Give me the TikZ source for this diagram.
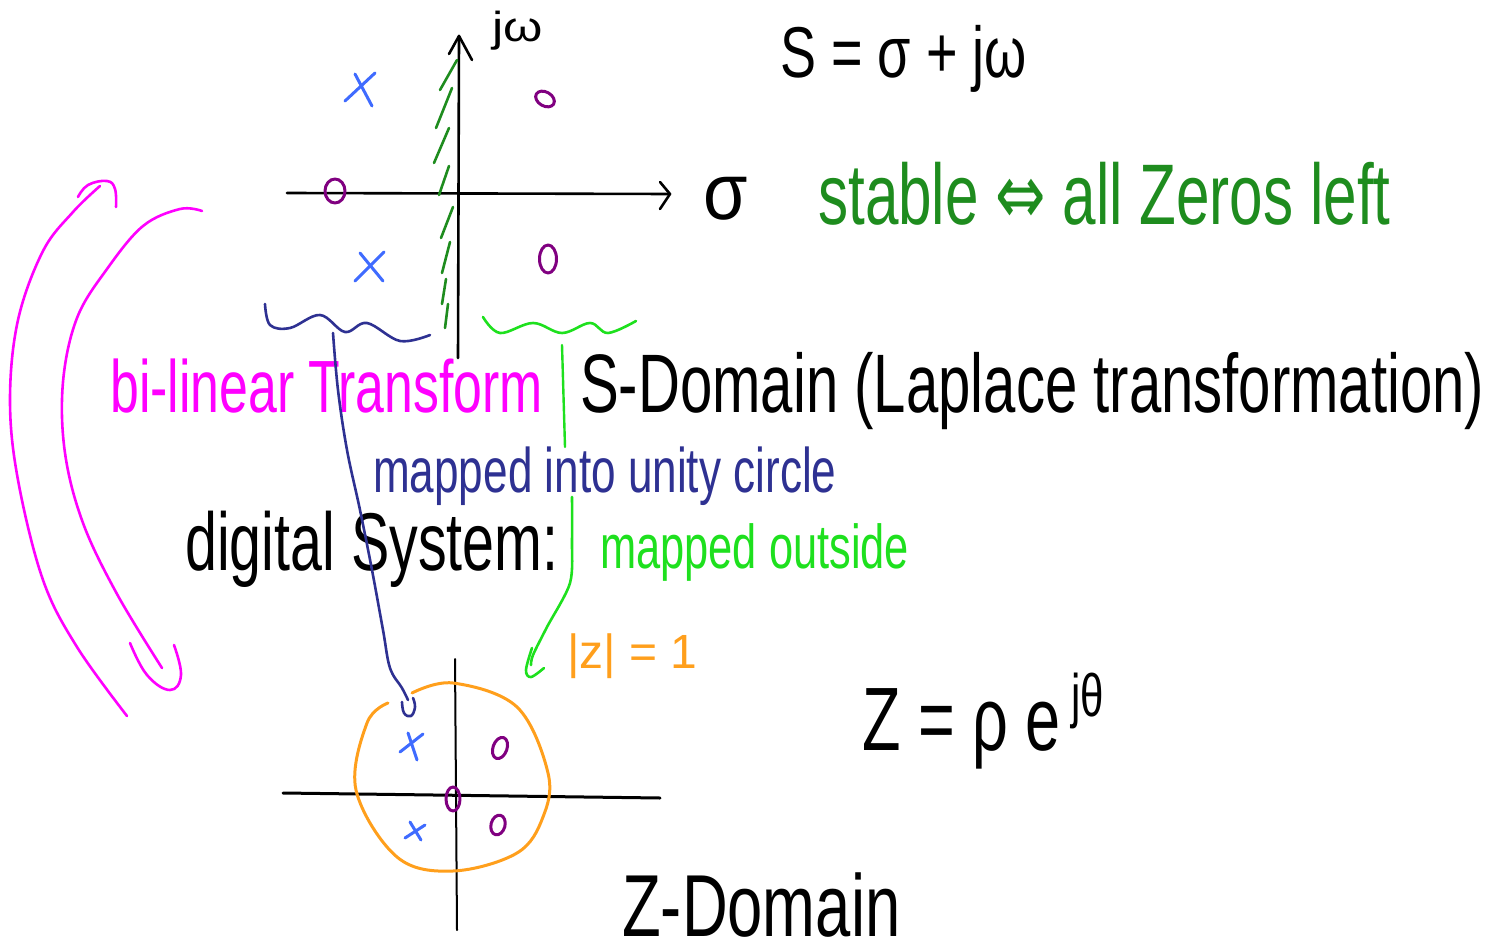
\documentclass[tikz,border=0pt]{standalone}
\usepackage{fontspec}
\setmainfont{Liberation Sans}
\newfontfamily\symfont{DejaVu Sans}
\usepackage{graphicx}
\usetikzlibrary{arrows.meta}
\definecolor{mag}{HTML}{FF00FF}
\definecolor{navy}{HTML}{2E3192}
\definecolor{xblue}{HTML}{3F6BFF}
\definecolor{zpurple}{HTML}{800080}
\definecolor{lgreen}{HTML}{1EE01E}
\definecolor{dgreen}{HTML}{1E8C1E}
\definecolor{zorange}{HTML}{FF9F1C}
\newcommand{\hw}[3]{\scalebox{#1}[1]{\fontsize{#2}{#2}\selectfont #3}}
\tikzset{
  txt/.style={inner sep=0pt, anchor=base west},
  pen/.style={line width=3pt, line cap=round, line join=round},
  axisline/.style={pen, line width=2.6pt, black},
  pole/.style={pen, xblue, line width=3pt},
  zero/.style={pen, zpurple, line width=3pt},
  hatch/.style={pen, dgreen, line width=2.6pt},
}
\begin{document}
\begin{tikzpicture}[x=1pt,y=-1pt]
\useasboundingbox (0,0) rectangle (1493,952);

% ---------- s-plane ----------
\coordinate (sH0) at (287,193); \coordinate (sH1) at (670,194);
\coordinate (sV0) at (458,358); \coordinate (sV1) at (459,36);
\draw[axisline] (sH0) -- (sH1);
\draw[axisline] (660,182) -- (sH1) -- (660,209);
\draw[axisline] (sV0) -- (sV1);
\draw[axisline] (449,54) -- (sV1) -- (472,60);

\node[txt] (jw) at (492,42) {\hw{1.2}{42}{jω}};
\node[txt] (sigma) at (703,219) {\hw{0.9}{80}{σ}};

% stability hatch
\foreach \xa/\ya/\xb/\yb in {440/90/457/60, 436/128/452/88, 434/163/449/128, 439/195/449/166, 441/238/453/207, 442/273/450/242, 442/304/446/279, 445/328/448/304}
  \draw[hatch] (\xa,\ya) -- (\xb,\yb);

% poles and zeros (s-plane)
\draw[pole] (345,101) -- (375,73);  \draw[pole] (355,74) -- (372,106);
\draw[pole] (355,281) -- (384,252); \draw[pole] (360,253) -- (383,281);
\draw[zero] (545,99) ellipse[x radius=10, y radius=7, rotate=-30];
\draw[zero] (335,191) ellipse[x radius=10, y radius=12];
\draw[zero] (548,259) ellipse[x radius=8.5, y radius=14];

% braces
\coordinate (navyTop) at (333,333);
\draw[pen, navy, line width=2.6pt] plot[smooth, tension=0.6] coordinates {(265,304) (270,325) (290,328) (320,315) (345,332) (367,323) (400,341) (430,335)};
\draw[pen, lgreen, line width=2.6pt] plot[smooth, tension=0.6] coordinates {(483,317) (500,333) (533,323) (562,333) (590,323) (608,333) (636,321)};

% ---------- texts ----------
\node[txt, text=mag] (bilin) at (110,412) {\hw{0.7}{74}{bi-linear Transform}};
\node[txt] (sdom) at (580,412) {\hw{0.7}{83}{S-Domain (Laplace transformation)}};
\node[txt, text=navy] (inside) at (373,492) {\hw{0.7}{63}{mapped into unity circle}};
\node[txt] (digsys) at (185,570) {\hw{0.7}{82}{digital System:}};
\node[txt, text=lgreen] (outside) at (600,568) {\hw{0.7}{62}{mapped outside}};
\node[txt, text=zorange] (unit) at (567,668) {\hw{1}{48}{|z| = 1}};
\node[txt] (zpolar) at (862,750) {\hw{0.7}{90}{Z = ρ e\,\raisebox{34pt}{\fontsize{60}{60}\selectfont jθ}}};
\node[txt] (zdom) at (622,936) {\hw{0.72}{88}{Z-Domain}};
\node[txt] (sdef) at (780,78) {\hw{0.75}{72}{S = σ + jω}};
\node[txt, text=dgreen] (stable) at (818,225) {\hw{0.7}{86}{stable {\symfont ⇔} all Zeros left}};

% ---------- connectors ----------
\coordinate (navyEnd) at (408,700);
\draw[pen, navy, line width=2.6pt] plot[smooth, tension=0.6] coordinates {(navyTop) (338,390) (347,450) (360,510) (372,570) (383,630) (390,668) (402,688) (navyEnd)};
\draw[pen, navy, line width=2.6pt] plot[smooth, tension=0.7] coordinates {(402,702) (404,713) (411,716) (415,707) (413,698)};

\coordinate (gA0) at (562,345); \coordinate (gA1) at (565,447);
\draw[pen, lgreen, line width=2.4pt] (gA0) -- (gA1);
\coordinate (gB0) at (572,497); \coordinate (gEnd) at (531,665);
\draw[pen, lgreen, line width=2.6pt] plot[smooth, tension=0.5] coordinates {(gB0) (572,540) (570,583) (547,627) (533,655) (gEnd)};
\draw[pen, lgreen, line width=2.6pt] plot[smooth, tension=0.6] coordinates {(532,648) (526,670) (531,677) (544,668)};

% bilinear mapping arcs
\coordinate (mOutBot) at (127,716); \coordinate (mOutTop) at (100,186);
\draw[pen, mag, line width=2.6pt] plot[smooth, tension=0.6] coordinates {(mOutBot) (77,647) (43,580) (18,480) (10,400) (18,320) (43,251) (73,212) (mOutTop)};
\draw[pen, mag, line width=2.6pt] plot[smooth, tension=0.7] coordinates {(78,197) (88,185) (107,181) (115,189) (116,207)};
\coordinate (mInTop) at (202,211); \coordinate (mInBot) at (162,668);
\draw[pen, mag, line width=2.6pt] plot[smooth, tension=0.6] coordinates {(mInTop) (180,209) (143,226) (107,269) (77,318) (63,382) (65,453) (83,523) (117,594) (mInBot)};
\draw[pen, mag, line width=2.6pt] plot[smooth, tension=0.7] coordinates {(130,643) (147,675) (170,690) (181,675) (174,645)};

% ---------- z-plane ----------
\coordinate (zH0) at (283,793); \coordinate (zH1) at (660,798);
\coordinate (zV0) at (455,659); \coordinate (zV1) at (457,930);
\draw[axisline, line width=3pt] (zH0) -- (zH1);
\draw[axisline, line width=2pt] (zV0) -- (zV1);
\draw[pen, zorange, line width=3pt] plot[smooth, tension=0.6] coordinates {(412,693) (453,683) (517,707) (548,773) (543,817) (517,853) (453,871) (397,857) (356,790) (367,723) (388,703)};
\draw[pole] (400,752) -- (423,734); \draw[pole] (408,733) -- (417,760);
\draw[pole] (405,838) -- (425,825); \draw[pole] (410,822) -- (421,840);
\draw[zero] (500,748) ellipse[x radius=7, y radius=11, rotate=-20];
\draw[zero] (453,799) ellipse[x radius=7, y radius=12];
\draw[zero] (498,825) ellipse[x radius=7, y radius=10, rotate=-15];
\end{tikzpicture}
\end{document}
